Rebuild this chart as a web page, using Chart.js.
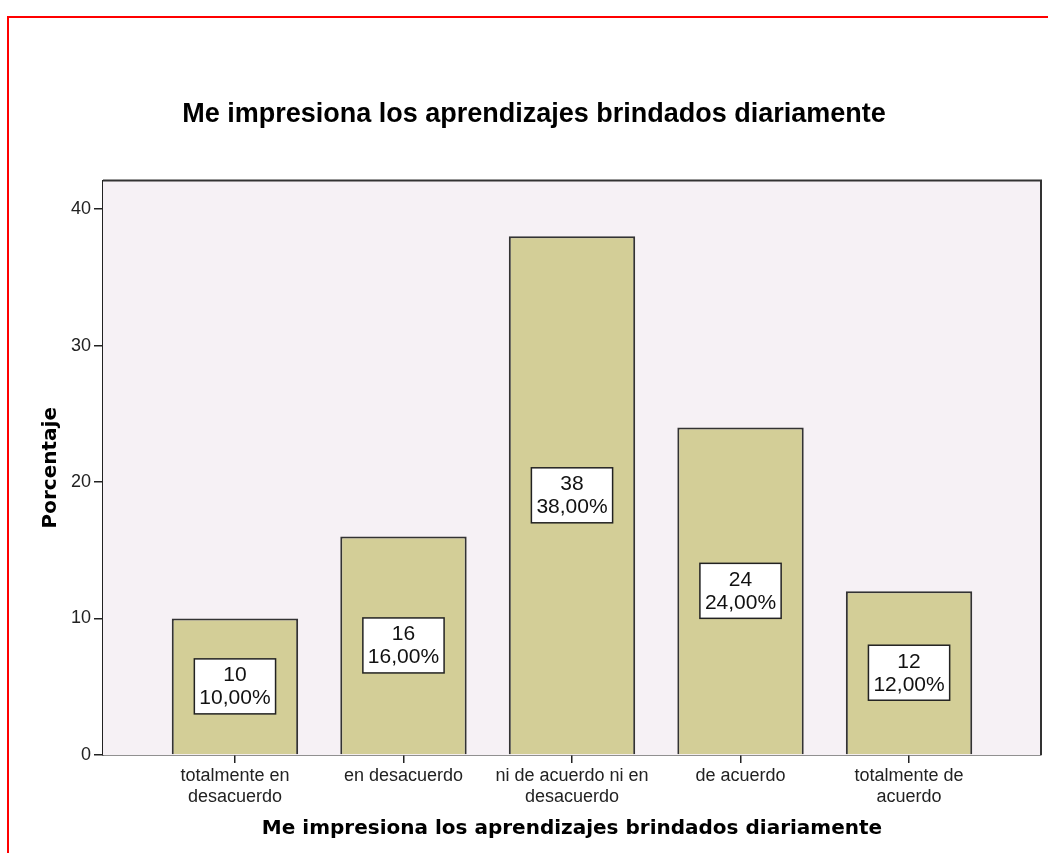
<!DOCTYPE html>
<html>
<head>
<meta charset="utf-8">
<script src="https://cdn.jsdelivr.net/npm/chart.js@4/dist/chart.umd.min.js"></script>
<style>
    html, body { margin: 0; padding: 0; background: #fff; }
    #wrap { position: relative; width: 1048px; height: 853px; overflow: hidden; }
    #frame { position: absolute; left: 7px; top: 16px; width: 1100px; height: 900px; border: 2px solid #f00; }
    #chart { position: absolute; left: 0; top: 0; }
</style>
</head>
<body>
<div id="wrap">
    <div id="frame"></div>
    <canvas id="chart" width="1048" height="853"></canvas>
</div>
<script>
const categorias = [
    ['totalmente en', 'desacuerdo'],
    'en desacuerdo',
    ['ni de acuerdo ni en', 'desacuerdo'],
    'de acuerdo',
    ['totalmente de', 'acuerdo']
];
const frecuencias = [10, 16, 38, 24, 12];
const porcentajes = [10, 16, 38, 24, 12];
const yTicks = [0, 10, 20, 30, 40];
const titulo = 'Me impresiona los aprendizajes brindados diariamente';

const plotFrame = {
    id: 'plotFrame',
    beforeDatasetsDraw(chart) {
        const { ctx, chartArea: a } = chart;
        ctx.save();
        ctx.fillStyle = '#f6f1f5';
        ctx.fillRect(a.left, a.top, a.right - a.left, a.bottom - a.top);
        ctx.restore();
    },
    afterDatasetsDraw(chart) {
        const { ctx, chartArea: a } = chart;
        ctx.save();
        ctx.strokeStyle = '#333';
        ctx.lineWidth = 2;
        ctx.beginPath();
        ctx.moveTo(a.left, a.top);
        ctx.lineTo(a.right, a.top);
        ctx.lineTo(a.right, a.bottom);
        ctx.stroke();

        // cajas de etiqueta: frecuencia y porcentaje
        const meta = chart.getDatasetMeta(0);
        ctx.font = '21px "Liberation Sans", Arial, sans-serif';
        ctx.textAlign = 'center';
        ctx.textBaseline = 'middle';
        meta.data.forEach((bar, i) => {
            const cy = (bar.y + bar.base) / 2;
            const l1 = String(frecuencias[i]);
            const l2 = porcentajes[i].toFixed(2).replace('.', ',') + '%';
            const w = Math.max(ctx.measureText(l1).width, ctx.measureText(l2).width) + 10;
            const h = 55;
            ctx.fillStyle = '#fff';
            ctx.fillRect(bar.x - w / 2, cy - h / 2, w, h);
            ctx.strokeStyle = '#222';
            ctx.lineWidth = 1.5;
            ctx.strokeRect(bar.x - w / 2, cy - h / 2, w, h);
            ctx.fillStyle = '#111';
            ctx.fillText(l1, bar.x, cy - 11);
            ctx.fillText(l2, bar.x, cy + 12);
        });
        ctx.restore();
    }
};

new Chart(document.getElementById('chart'), {
    type: 'bar',
    data: {
        datasets: [{
            data: porcentajes.map((v, i) => ({ x: i + 1, y: v })),
            backgroundColor: '#d3ce97',
            borderColor: '#333',
            borderWidth: 2,
            barPercentage: 0.75,
            categoryPercentage: 1
        }]
    },
    options: {
        responsive: false,
        animation: false,
        layout: { padding: { left: 27, right: 7, top: 0, bottom: 0 } },
        plugins: {
            legend: { display: false },
            tooltip: { enabled: false },
            title: {
                display: true,
                text: titulo,
                color: '#000',
                font: { family: '"Liberation Sans", Arial, sans-serif', size: 27, weight: 'bold', lineHeight: 1.2 },
                padding: { top: 98, bottom: 50 }
            }
        },
        scales: {
            x: {
                type: 'linear',
                min: 0.217,
                max: 5.783,
                offset: false,
                afterBuildTicks: s => { s.ticks = [1, 2, 3, 4, 5].map(v => ({ value: v })); },
                afterFit: s => { s.height = 98; },
                ticks: {
                    autoSkip: false,
                    maxRotation: 0,
                    padding: 3,
                    color: '#222',
                    font: { family: '"Liberation Sans", Arial, sans-serif', size: 18, lineHeight: 1.15 },
                    callback: v => categorias[v - 1]
                },
                grid: { offset: false, drawOnChartArea: false, drawTicks: true, tickLength: 8, color: '#222', lineWidth: 1.5 },
                border: { display: true, color: '#222', width: 1.5 },
                title: {
                    display: true,
                    text: titulo,
                    color: '#000',
                    font: { family: '"DejaVu Sans", sans-serif', size: 20, weight: 'bold', lineHeight: 1.2 },
                    padding: { top: 0, bottom: 12 }
                }
            },
            y: {
                min: 0,
                max: 42.1,
                afterBuildTicks: s => { s.ticks = yTicks.map(v => ({ value: v })); },
                afterFit: s => { s.width = 76; },
                ticks: {
                    padding: 3,
                    color: '#222',
                    font: { family: '"Liberation Sans", Arial, sans-serif', size: 18 }
                },
                grid: { drawOnChartArea: false, drawTicks: true, tickLength: 9, color: '#222', lineWidth: 1.5 },
                border: { display: true, color: '#222', width: 1.5 },
                title: {
                    display: true,
                    text: 'Porcentaje',
                    color: '#000',
                    font: { family: '"DejaVu Sans", sans-serif', size: 20, weight: 'bold', lineHeight: 1.2 },
                    padding: { top: 12, bottom: 0 }
                }
            }
        }
    },
    plugins: [plotFrame]
});
</script>
</body>
</html>
